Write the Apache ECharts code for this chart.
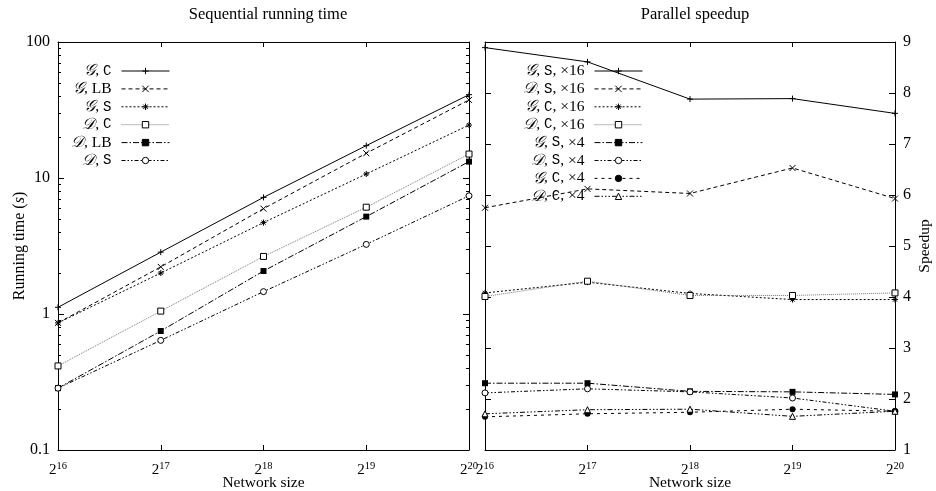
<!DOCTYPE html>
<html><head><meta charset="utf-8">
<script src="https://cdn.jsdelivr.net/npm/echarts@6/dist/echarts.min.js"></script>
<style>html,body{margin:0;padding:0;background:#fff}#c{width:936px;height:491px}</style>
</head><body><div id="c"></div>
<script>
// Network size exponents (2^k)
const sizesExp = [16, 17, 18, 19, 20];

// Sequential running time (s)
const seqNames = ['𝒢, C', '𝒢, LB', '𝒢, S', '𝒟, C', '𝒟, LB', '𝒟, S'];
const seqGC  = [1.12, 2.85, 7.2, 17.3, 41];
const seqGLB = [0.86, 2.22, 5.95, 15.2, 37.5];
const seqGS  = [0.86, 2.0, 4.7, 10.7, 24.5];
const seqDC  = [0.415, 1.05, 2.65, 6.1, 15.0];
const seqDLB = [0.285, 0.75, 2.07, 5.2, 13.2];
const seqDS  = [0.285, 0.64, 1.46, 3.25, 7.4];

// Parallel speedup
const parNames = ['𝒢, S, ×16', '𝒟, S, ×16', '𝒢, C, ×16', '𝒟, C, ×16', '𝒢, S, ×4', '𝒟, S, ×4', '𝒢, C, ×4', '𝒟, C, ×4'];
const parGS16 = [8.89, 8.61, 7.88, 7.89, 7.60];
const parDS16 = [5.75, 6.12, 6.03, 6.53, 5.93];
const parGC16 = [4.08, 4.29, 4.07, 3.95, 3.95];
const parDC16 = [4.01, 4.31, 4.03, 4.03, 4.08];
const parGS4  = [2.31, 2.31, 2.15, 2.14, 2.09];
const parDS4  = [2.12, 2.20, 2.14, 2.02, 1.76];
const parGC4  = [1.65, 1.71, 1.74, 1.80, 1.76];
const parDC4  = [1.71, 1.79, 1.80, 1.66, 1.76];

// minor tick values of the log axis
const logMinor = [0.2,0.3,0.4,0.5,0.6,0.7,0.8,0.9,2,3,4,5,6,7,8,9,20,30,40,50,60,70,80,90];

const SERIF = '"Liberation Serif", "DejaVu Serif", serif';
const MONO = '"Liberation Mono", "DejaVu Sans Mono", monospace';

const PLUS = 'path://M5 0L5 10M0 5L10 5';
const CROSS = 'path://M0 0L10 10M10 0L0 10';
const STAR = 'path://M5 0L5 10M0 5L10 5M1.5 1.5L8.5 8.5M8.5 1.5L1.5 8.5';

const styles = {
  solid:   {type: 'solid'},
  dashed:  {type: [4, 3]},
  dotted:  {type: [2, 2]},
  fine:    {type: [1, 1], color: '#777'},
  dashdot: {type: [6, 2, 1.5, 2]},
  dashdd:  {type: [4, 2, 1.5, 2, 1.5, 2]},
  sparse:  {type: [3, 4]},
  dashddd: {type: [5, 2, 1.5, 2, 1.5, 2, 1.5, 2]}
};
const markers = {
  plus:  {symbol: PLUS, itemStyle: {color: '#000', borderColor: '#000', borderWidth: 1}},
  cross: {symbol: CROSS, itemStyle: {color: '#000', borderColor: '#000', borderWidth: 1}},
  star:  {symbol: STAR, itemStyle: {color: '#000', borderColor: '#000', borderWidth: 1}},
  box:   {symbol: 'rect', itemStyle: {color: '#fff', borderColor: '#000', borderWidth: 1}},
  fbox:  {symbol: 'rect', itemStyle: {color: '#000', borderColor: '#000', borderWidth: 0}},
  ocirc: {symbol: 'circle', itemStyle: {color: '#fff', borderColor: '#000', borderWidth: 1}},
  fcirc: {symbol: 'circle', itemStyle: {color: '#000', borderColor: '#000', borderWidth: 0}},
  otri:  {symbol: 'triangle', itemStyle: {color: '#fff', borderColor: '#000', borderWidth: 1}}
};

function mkSeries(name, vals, style, marker, xi, yi) {
  const ls = styles[style];
  const mk = markers[marker];
  return {
    name: name, type: 'line', xAxisIndex: xi, yAxisIndex: yi,
    data: sizesExp.map((e, i) => [e, vals[i]]),
    symbol: mk.symbol, symbolSize: 6, showSymbol: true,
    itemStyle: mk.itemStyle,
    lineStyle: {color: ls.color || '#000', width: 1, type: ls.type},
    animation: false, z: 3
  };
}

const seqVals = [seqGC, seqGLB, seqGS, seqDC, seqDLB, seqDS];
const seqStyle = [['solid','plus'],['dashed','cross'],['dotted','star'],['fine','box'],['dashdot','fbox'],['dashdd','ocirc']];
const parVals = [parGS16, parDS16, parGC16, parDC16, parGS4, parDS4, parGC4, parDC4];
const parStyle = [['solid','plus'],['dashed','cross'],['dotted','star'],['fine','box'],['dashdot','fbox'],['dashdd','ocirc'],['sparse','fcirc'],['dashddd','otri']];

const series = [];
seqNames.forEach((n, i) => series.push(mkSeries(n, seqVals[i], seqStyle[i][0], seqStyle[i][1], 0, 0)));
parNames.forEach((n, i) => series.push(mkSeries(n, parVals[i], parStyle[i][0], parStyle[i][1], 2, 4)));

const axLine = {show: true, lineStyle: {color: '#000', width: 1}};
function xAx(grid, pos, labels, name) {
  return {
    type: 'value', gridIndex: grid, position: pos, min: 16, max: 20, interval: 1,
    axisLine: axLine, splitLine: {show: false},
    axisTick: {show: true, inside: true, length: 5, lineStyle: {color: '#000'}},
    axisLabel: {show: labels, margin: 11, color: '#000',
      formatter: v => '{b|2}{s|' + v + '}',
      rich: {b: {fontFamily: SERIF, fontSize: 15, color: '#000'},
             s: {fontFamily: SERIF, fontSize: 10.5, color: '#000', padding: [0, 0, 8, 0]}}},
    name: name, nameLocation: 'middle', nameGap: 25, nameMoveOverlap: false,
    nameTextStyle: {fontFamily: SERIF, fontSize: 15.5, color: '#000'}
  };
}

function legendFmt(name) {
  const p = name.split(', ');
  const code = p[1] === 'LB' ? '{t|LB}' : '{m|' + p[1] + '}';
  let s = '{c|' + p[0] + '}{t|, }' + code;
  if (p[2]) s += '{t|, ' + p[2] + '}';
  return s;
}
const legendRich = {
  c: {fontFamily: SERIF, fontSize: 16, fontStyle: 'italic', color: '#000', lineHeight: 14},
  t: {fontFamily: SERIF, fontSize: 15.5, color: '#000', lineHeight: 14},
  m: {fontFamily: MONO, fontSize: 14, color: '#000', lineHeight: 14}
};

const option = {
  backgroundColor: '#fff',
  animation: false,
  title: [
    {text: 'Sequential running time', left: 263, top: 1, textAlign: 'center',
     textStyle: {fontFamily: SERIF, fontSize: 16.5, fontWeight: 'normal', color: '#000'}},
    {text: 'Parallel speedup', left: 690, top: 1, textAlign: 'center',
     textStyle: {fontFamily: SERIF, fontSize: 16.5, fontWeight: 'normal', color: '#000'}}
  ],
  grid: [
    {left: 58, top: 42, width: 411, height: 408, outerBoundsMode: 'none', containLabel: false},
    {left: 485, top: 42, width: 410, height: 408, outerBoundsMode: 'none', containLabel: false}
  ],
  legend: [
    {data: seqNames, orient: 'vertical', align: 'right', right: 766, top: 63, padding: 0,
     itemWidth: 48, itemHeight: 8, itemGap: 1.9, formatter: legendFmt,
     lineStyle: {width: 1}, itemStyle: {borderWidth: 1},
     textStyle: {lineHeight: 14, padding: [0, 5, 0, 0], rich: legendRich}, selectedMode: false},
    {data: parNames, orient: 'vertical', align: 'right', right: 293, top: 63, padding: 0,
     itemWidth: 48, itemHeight: 8, itemGap: 1.9, formatter: legendFmt,
     lineStyle: {width: 1}, itemStyle: {borderWidth: 1},
     textStyle: {lineHeight: 14, padding: [0, 5, 0, 0], rich: legendRich}, selectedMode: false}
  ],
  xAxis: [
    xAx(0, 'bottom', true, 'Network size'),
    xAx(0, 'top', false, ''),
    xAx(1, 'bottom', true, 'Network size'),
    xAx(1, 'top', false, '')
  ],
  yAxis: [
    {type: 'log', logBase: 10, gridIndex: 0, position: 'left', min: 0.1, max: 100,
     axisLine: axLine, splitLine: {show: false}, minorTick: {show: false},
     axisTick: {show: true, inside: true, length: 6, lineStyle: {color: '#000'}},
     axisLabel: {color: '#000', fontFamily: SERIF, fontSize: 16, margin: 8, formatter: v => String(v)},
     name: 'Running time ({i|s})', nameLocation: 'middle', nameGap: 30, nameRotate: 90, nameMoveOverlap: false,
     nameTextStyle: {fontFamily: SERIF, fontSize: 16, color: '#000',
       rich: {i: {fontFamily: SERIF, fontSize: 16, fontStyle: 'italic', color: '#000'}}}},
    {type: 'log', logBase: 10, gridIndex: 0, position: 'right', min: 0.1, max: 100,
     axisLine: axLine, splitLine: {show: false},
     axisTick: {show: true, inside: true, length: 6, lineStyle: {color: '#000'}},
     axisLabel: {show: false}},
    {type: 'log', logBase: 10, gridIndex: 0, position: 'left', min: 0.1, max: 100,
     axisLine: {show: false}, splitLine: {show: false},
     axisTick: {show: true, inside: true, length: 3, customValues: logMinor, lineStyle: {color: '#000'}},
     axisLabel: {show: false}},
    {type: 'log', logBase: 10, gridIndex: 0, position: 'right', min: 0.1, max: 100,
     axisLine: {show: false}, splitLine: {show: false},
     axisTick: {show: true, inside: true, length: 3, customValues: logMinor, lineStyle: {color: '#000'}},
     axisLabel: {show: false}},
    {type: 'value', gridIndex: 1, position: 'right', min: 1, max: 9, interval: 1,
     axisLine: axLine, splitLine: {show: false},
     axisTick: {show: true, inside: true, length: 6, lineStyle: {color: '#000'}},
     axisLabel: {color: '#000', fontFamily: SERIF, fontSize: 16, margin: 8},
     name: 'Speedup', nameLocation: 'middle', nameGap: 22, nameRotate: 90, nameMoveOverlap: false,
     nameTextStyle: {fontFamily: SERIF, fontSize: 15.5, color: '#000'}},
    {type: 'value', gridIndex: 1, position: 'left', min: 1, max: 9, interval: 1,
     axisLine: axLine, splitLine: {show: false},
     axisTick: {show: true, inside: true, length: 6, lineStyle: {color: '#000'}},
     axisLabel: {show: false}}
  ],
  series: series
};

const chart = echarts.init(document.getElementById('c'), null, {renderer: 'canvas'});
chart.setOption(option);
</script></body></html>
